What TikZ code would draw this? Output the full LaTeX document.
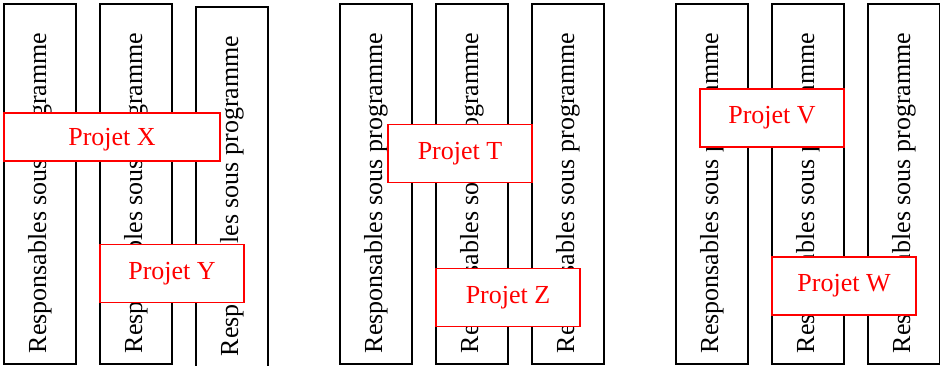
\documentclass[tikz,border=0pt]{standalone}
\usepackage{fontspec}
\setmainfont{Liberation Serif}
\usepackage{tikz}
\usetikzlibrary{positioning}

\begin{document}
\begin{tikzpicture}[x=0.75pt, y=-0.75pt, semithick,
    colonne/.style={draw, line width=1.5pt, minimum width=54pt, minimum height=270pt, inner sep=0pt},
    libelle/.style={rotate=90, anchor=west, inner sep=0pt, font=\fontsize{19.5}{23}\selectfont},
    projet/.style={draw=red, fill=white, text=red, line width=1.2pt, minimum width=108pt,
                   minimum height=43.5pt, inner sep=0pt, font=\fontsize{19.5}{23}\selectfont}]
    \useasboundingbox (0,0) rectangle (940,366);
    % les colonnes des responsables
    \foreach \n/\x/\y in {1a/40/184, 1b/136/184, 1c/232/187,
                          2a/376/184, 2b/472/184, 2c/568/184,
                          3a/712/184, 3b/808/184, 3c/904/184} {
        \node[colonne] (\n) at (\x,\y) {};
        \node[libelle] at ([yshift=8.5pt]\n.south) {Responsables sous programme};
    }
    % les projets par dessus
    \node[projet, minimum width=162pt, minimum height=36pt, text depth=0pt] (X) at (112,137) {Projet X};
    \node[projet] (Y) at (172,273.5) {Projet Y};
    \node[projet] (T) at (460,153.5) {Projet T};
    \node[projet] (Z) at (508,297.5) {Projet Z};
    \node[projet] (V) at (772,118) {Projet V};
    \node[projet] (W) at (844,286) {Projet W};
\end{tikzpicture}
\end{document}
